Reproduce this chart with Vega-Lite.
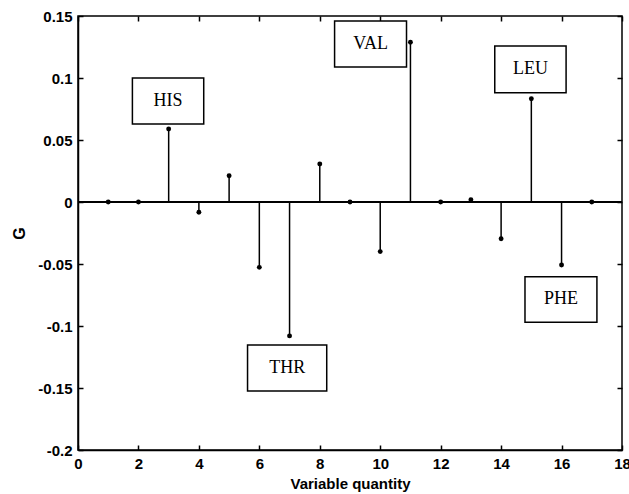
{
  "$schema": "https://vega.github.io/schema/vega-lite/v6.json",
  "width": 544,
  "height": 434,
  "autosize": {"type": "none"},
  "padding": {"left": 78, "top": 16, "right": 7, "bottom": 44},
  "background": "white",
  "config": {
    "view": {"stroke": "black", "strokeWidth": 1.5},
    "axis": {
      "domainColor": "black", "domainWidth": 1.5, "tickColor": "black", "tickWidth": 1.5,
      "tickSize": -5, "labelFont": "Liberation Sans", "labelFontSize": 15, "labelFontWeight": "bold", "labelColor": "black",
      "titleFont": "Liberation Sans", "titleFontSize": 15, "titleFontWeight": "bold", "titleColor": "black",
      "grid": false, "labelPadding": 11, "labelFlush": false, "labelOverlap": false
    }
  },
  "datasets": {
    "stems": [
      {"x": 1, "g": 0}, {"x": 2, "g": 0}, {"x": 3, "g": 0.0589}, {"x": 4, "g": -0.0083},
      {"x": 5, "g": 0.0212}, {"x": 6, "g": -0.0527}, {"x": 7, "g": -0.108}, {"x": 8, "g": 0.0306},
      {"x": 9, "g": 0}, {"x": 10, "g": -0.040}, {"x": 11, "g": 0.1288}, {"x": 12, "g": 0},
      {"x": 13, "g": 0.0019}, {"x": 14, "g": -0.0296}, {"x": 15, "g": 0.0833}, {"x": 16, "g": -0.0508},
      {"x": 17, "g": 0}
    ],
    "labels": [
      {"label": "HIS", "x1": 1.80, "x2": 4.16, "y1": 0.1, "y2": 0.0629, "tx": 2.98, "ty": 0.0815},
      {"label": "VAL", "x1": 8.49, "x2": 10.87, "y1": 0.146, "y2": 0.1089, "tx": 9.68, "ty": 0.1275},
      {"label": "LEU", "x1": 13.79, "x2": 16.15, "y1": 0.1258, "y2": 0.0881, "tx": 14.97, "ty": 0.107},
      {"label": "THR", "x1": 5.61, "x2": 8.23, "y1": -0.1153, "y2": -0.1524, "tx": 6.92, "ty": -0.134},
      {"label": "PHE", "x1": 14.79, "x2": 17.17, "y1": -0.0602, "y2": -0.097, "tx": 15.98, "ty": -0.0786}
    ]
  },
  "layer": [
    {
      "layer": [
        {
          "data": {"name": "stems"},
          "mark": {"type": "rule", "color": "black", "strokeWidth": 1.5},
          "encoding": {"y": {"datum": 0, "type": "quantitative"}}
        },
        {
          "data": {"name": "stems"},
          "mark": {"type": "rule", "color": "black", "strokeWidth": 1.5},
          "encoding": {
            "x": {"field": "x", "type": "quantitative", "scale": {"domain": [0, 18], "nice": false},
              "axis": {"values": [0, 2, 4, 6, 8, 10, 12, 14, 16, 18], "title": "Variable quantity", "titlePadding": 5}},
            "y": {"field": "g", "type": "quantitative", "scale": {"domain": [-0.2, 0.15], "nice": false, "zero": false},
              "axis": {"values": [-0.2, -0.15, -0.1, -0.05, 0, 0.05, 0.1, 0.15], "labelExpr": "'' + datum.value", "title": "G", "titlePadding": 10, "titleFontSize": 16}},
            "y2": {"datum": 0}
          }
        },
        {
          "data": {"name": "stems"},
          "mark": {"type": "point", "filled": true, "color": "black", "size": 24, "opacity": 1},
          "encoding": {
            "x": {"field": "x", "type": "quantitative"},
            "y": {"field": "g", "type": "quantitative"}
          }
        },
        {
          "data": {"name": "labels"},
          "mark": {"type": "rect", "fill": "white", "stroke": "black", "strokeWidth": 1.5},
          "encoding": {
            "x": {"field": "x1", "type": "quantitative"},
            "x2": {"field": "x2"},
            "y": {"field": "y1", "type": "quantitative"},
            "y2": {"field": "y2"}
          }
        },
        {
          "data": {"name": "labels"},
          "mark": {"type": "text", "font": "Liberation Serif", "fontSize": 18, "color": "black", "baseline": "middle", "align": "center"},
          "encoding": {
            "x": {"field": "tx", "type": "quantitative"},
            "y": {"field": "ty", "type": "quantitative"},
            "text": {"field": "label"}
          }
        }
      ]
    },
    {
      "data": {"values": [{"x": 0, "g": 0}]},
      "mark": {"type": "point", "opacity": 0},
      "encoding": {
        "x": {"field": "x", "type": "quantitative", "scale": {"domain": [0, 18], "nice": false},
          "axis": {"orient": "top", "values": [0, 2, 4, 6, 8, 10, 12, 14, 16, 18], "labels": false, "title": null, "domain": false}},
        "y": {"field": "g", "type": "quantitative", "scale": {"domain": [-0.2, 0.15], "nice": false, "zero": false},
          "axis": {"orient": "right", "values": [-0.2, -0.15, -0.1, -0.05, 0, 0.05, 0.1, 0.15], "labels": false, "title": null, "domain": false}}
      }
    }
  ],
  "resolve": {"scale": {"x": "independent", "y": "independent"}}
}
